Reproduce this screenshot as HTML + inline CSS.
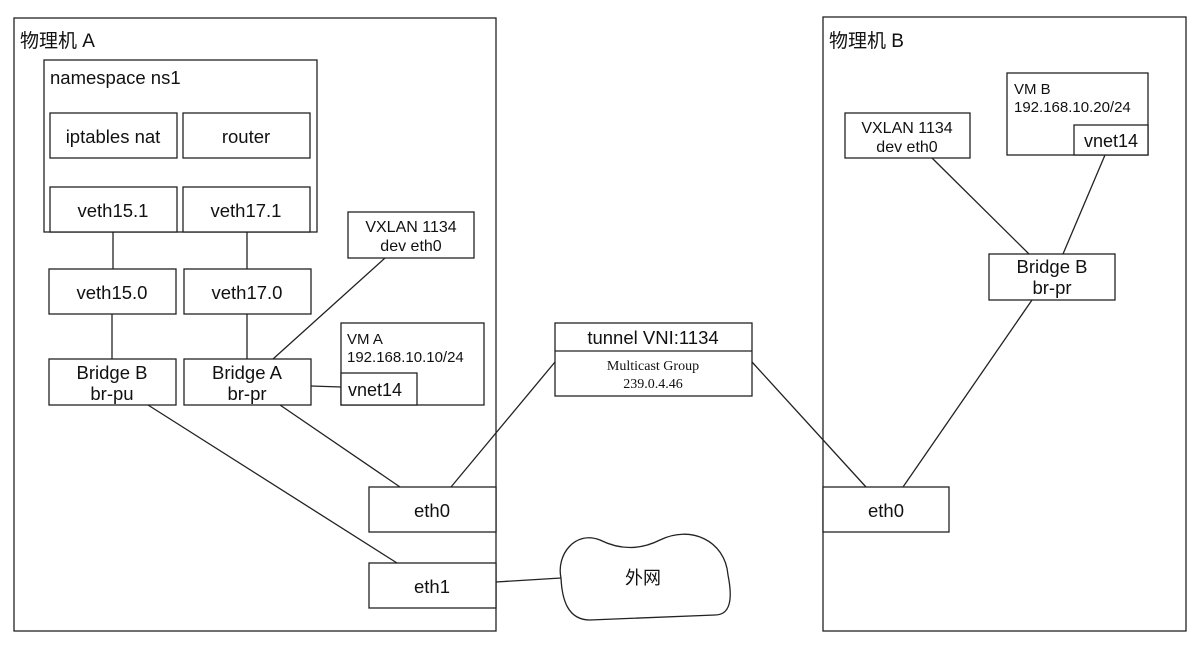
<!DOCTYPE html>
<html><head><meta charset="utf-8"><style>
html,body{margin:0;padding:0;background:#fff;width:1200px;height:647px;overflow:hidden}
svg{display:block}
text{font-family:"Liberation Sans","Noto Sans CJK SC",sans-serif;fill:#111}
.s{font-family:"Liberation Serif","Noto Serif CJK SC",serif}
rect,path,line{stroke:#222;stroke-width:1.3;fill:#fff}
</style></head><body>
<svg width="1200" height="647" viewBox="0 0 1200 647">
<rect x="14" y="18" width="482" height="613"/>
<rect x="823" y="17" width="363" height="614"/>
<text x="20" y="47" font-size="19">物理机 A</text>
<text x="829" y="47" font-size="19">物理机 B</text>

<rect x="44" y="60" width="273" height="172"/>
<text x="50" y="84" font-size="18.5">namespace ns1</text>
<rect x="50" y="113" width="127" height="45"/><text x="113" y="143" font-size="18.5" text-anchor="middle">iptables nat</text>
<rect x="183" y="113" width="127" height="45"/><text x="246" y="143" font-size="18.5" text-anchor="middle">router</text>
<rect x="50" y="187" width="127" height="45"/><text x="113" y="217" font-size="18.5" text-anchor="middle">veth15.1</text>
<rect x="183" y="187" width="127" height="45"/><text x="246" y="217" font-size="18.5" text-anchor="middle">veth17.1</text>

<line x1="113" y1="232" x2="113" y2="269"/>
<line x1="247" y1="232" x2="247" y2="269"/>
<rect x="49" y="269" width="127" height="45"/><text x="112" y="299" font-size="18.5" text-anchor="middle">veth15.0</text>
<rect x="184" y="269" width="127" height="45"/><text x="247" y="299" font-size="18.5" text-anchor="middle">veth17.0</text>
<line x1="112" y1="314" x2="112" y2="359"/>
<line x1="247" y1="314" x2="247" y2="359"/>
<rect x="49" y="359" width="127" height="46"/><text font-size="18.5" text-anchor="middle"><tspan x="112" y="379">Bridge B</tspan><tspan x="112" y="400">br-pu</tspan></text>
<rect x="184" y="359" width="127" height="46"/><text font-size="18.5" text-anchor="middle"><tspan x="247" y="379">Bridge A</tspan><tspan x="247" y="400">br-pr</tspan></text>

<rect x="348" y="212" width="126" height="46"/><text font-size="16" text-anchor="middle"><tspan x="411" y="232">VXLAN 1134</tspan><tspan x="411" y="251">dev eth0</tspan></text>
<line x1="385" y1="258" x2="273" y2="359"/>
<rect x="341" y="323" width="143" height="82"/>
<text x="347" y="344" font-size="15">VM A</text><text x="347" y="362" font-size="15">192.168.10.10/24</text>
<rect x="341" y="373" width="76" height="32"/><text x="348" y="396" font-size="18">vnet14</text>
<line x1="311" y1="386" x2="341" y2="387"/>

<rect x="369" y="487" width="127" height="45"/><text x="432" y="517" font-size="18.5" text-anchor="middle">eth0</text>
<rect x="369" y="563" width="127" height="45"/><text x="432" y="593" font-size="18.5" text-anchor="middle">eth1</text>
<line x1="148" y1="405" x2="397" y2="563"/>
<line x1="280" y1="405" x2="400" y2="487"/>
<line x1="451" y1="487" x2="555" y2="362"/>

<rect x="555" y="323" width="197" height="73"/>
<line x1="555" y1="351" x2="752" y2="351"/>
<text x="653" y="344" font-size="18.5" text-anchor="middle">tunnel VNI:1134</text>
<text class="s" x="653" y="370" font-size="14" text-anchor="middle">Multicast Group</text>
<text class="s" x="653" y="388" font-size="14" text-anchor="middle">239.0.4.46</text>
<line x1="752" y1="362" x2="866" y2="487"/>

<line x1="496" y1="582" x2="561" y2="578"/>
<path d="M561,578 C556,555 575,530 600,540 C620,550 640,550 660,540 C690,525 725,540 728,575 C733,600 730,615 715,615 L590,620 C568,620 562,600 561,578 Z"/>
<text x="643" y="584" font-size="18" text-anchor="middle">外网</text>

<rect x="823" y="487" width="126" height="45"/><text x="886" y="517" font-size="18.5" text-anchor="middle">eth0</text>
<rect x="845" y="113" width="125" height="45"/><text font-size="16" text-anchor="middle"><tspan x="907" y="133">VXLAN 1134</tspan><tspan x="907" y="152">dev eth0</tspan></text>
<rect x="1007" y="73" width="141" height="82"/>
<text x="1014" y="94" font-size="15">VM B</text><text x="1014" y="112" font-size="15">192.168.10.20/24</text>
<rect x="1074" y="125" width="74" height="30"/><text x="1111" y="147" font-size="18" text-anchor="middle">vnet14</text>
<rect x="989" y="254" width="126" height="46"/><text font-size="18.5" text-anchor="middle"><tspan x="1052" y="273">Bridge B</tspan><tspan x="1052" y="294">br-pr</tspan></text>
<line x1="932" y1="158" x2="1029" y2="254"/>
<line x1="1105" y1="155" x2="1063" y2="254"/>
<line x1="1032" y1="300" x2="903" y2="487"/>
</svg>
</body></html>
